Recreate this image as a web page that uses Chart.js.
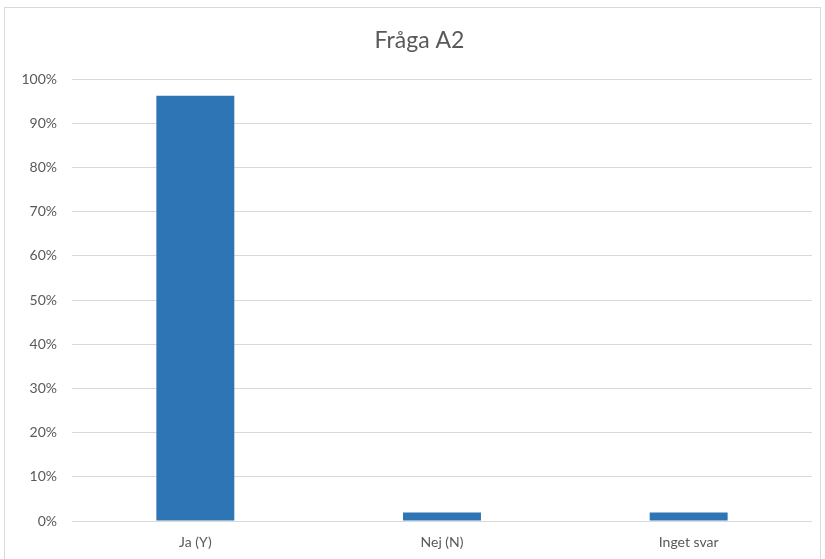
<!DOCTYPE html>
<html>
<head>
<meta charset="utf-8">
<script src="https://cdn.jsdelivr.net/npm/chart.js@4/dist/chart.umd.min.js"></script>
<style>
  html, body { margin: 0; padding: 0; background: #ffffff; }
  #wrap { position: relative; width: 825px; height: 559px; }
  #frame { position: absolute; left: 4px; top: 7px; width: 817px; height: 560px; border: 1px solid #d9d9d9; box-sizing: border-box; pointer-events: none; }
  canvas { position: absolute; left: 0; top: 0; }
</style>
</head>
<body>
<div id="wrap">
  <canvas id="chart" width="825" height="559"></canvas>
  <div id="frame"></div>
</div>
<script>
// Survey answers for question A2, share of respondents (%)
const categories = ['Ja (Y)', 'Nej (N)', 'Inget svar'];
const shares = [96.2, 1.9, 1.9];
const yTicks = [0, 10, 20, 30, 40, 50, 60, 70, 80, 90, 100];

const textColor = '#595959';
const fontFamily = 'Lato, "Open Sans", "Liberation Sans", sans-serif';

// Centre the title over the span from the value labels' start to the plot's right edge
const titleSpan = {
  id: 'titleSpan',
  afterLayout(chart) {
    const t = chart.titleBlock;
    if (t) {
      t.left = 27;
      t.right = chart.chartArea.right;
    }
  }
};

new Chart(document.getElementById('chart'), {
  type: 'bar',
  data: {
    labels: categories,
    datasets: [{
      data: shares,
      backgroundColor: '#2e75b6',
      borderWidth: 0,
      categoryPercentage: 1,
      barPercentage: 0.316
    }]
  },
  plugins: [titleSpan],
  options: {
    responsive: false,
    animation: false,
    layout: { padding: { left: 0, right: 13, top: 0, bottom: 0 } },
    plugins: {
      legend: { display: false },
      tooltip: { enabled: false },
      title: {
        display: true,
        text: 'Fråga A2',
        color: textColor,
        font: { family: fontFamily, size: 23, weight: 'normal', lineHeight: 1.2 },
        padding: { top: 27, bottom: 24.4 }
      }
    },
    scales: {
      x: {
        grid: { display: false, drawTicks: false },
        border: { display: false },
        ticks: {
          color: textColor,
          padding: 13,
          font: { family: fontFamily, size: 14 }
        },
        afterFit: (scale) => { scale.height = 38; }
      },
      y: {
        min: 0,
        max: 100,
        afterBuildTicks: (scale) => { scale.ticks = yTicks.map(v => ({ value: v })); },
        grid: { color: '#d9d9d9', lineWidth: 1, drawTicks: false },
        border: { display: false },
        ticks: {
          color: textColor,
          padding: 15,
          font: { family: fontFamily, size: 14 },
          callback: (v) => v + '%'
        },
        afterFit: (scale) => { scale.width = 72; }
      }
    }
  }
});
</script>
</body>
</html>
